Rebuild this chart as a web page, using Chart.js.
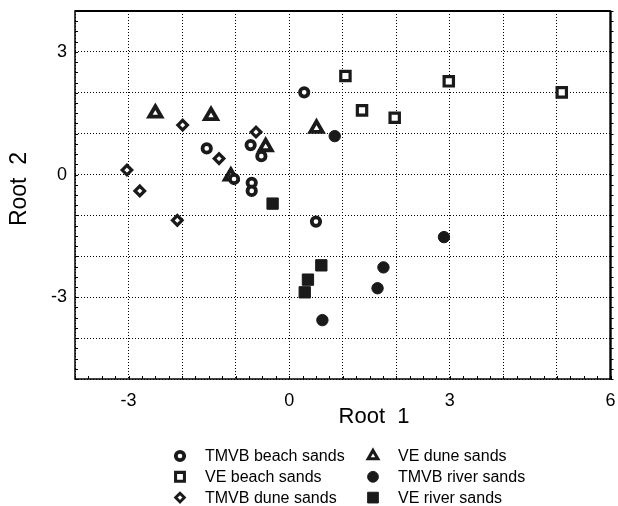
<!DOCTYPE html>
<html>
<head>
<meta charset="utf-8">
<script src="https://cdn.jsdelivr.net/npm/chart.js@4.4.1/dist/chart.umd.min.js"></script>
<style>
  html, body { margin: 0; padding: 0; background: #fff; overflow: hidden; }
  canvas { display: block; }
</style>
</head>
<body>
<canvas id="c" width="618" height="506"></canvas>
<script>
// discriminant function scores (Root 1 = x, Root 2 = y)
const tmvbBeachX = [0.28, -1.54, -0.72, -0.52, -0.70, -0.70, 0.50, -1.03];
const tmvbBeachY = [2.01, 0.64, 0.72, 0.45, -0.20, -0.40, -1.15, -0.11];
const veBeachX = [1.05, 1.36, 1.97, 2.98, 5.09];
const veBeachY = [2.41, 1.57, 1.39, 2.28, 2.01];
const tmvbDuneX = [-3.03, -2.79, -1.99, -1.31, -0.62, -2.09];
const tmvbDuneY = [0.11, -0.40, 1.21, 0.39, 1.04, -1.12];
const veDuneX = [-2.50, -1.46, -0.44, -1.09, 0.51];
const veDuneY = [1.50, 1.44, 0.68, -0.04, 1.13];
const tmvbRiverX = [0.85, 2.89, 1.76, 1.65, 0.62];
const tmvbRiverY = [0.94, -1.53, -2.27, -2.78, -3.56];
const veRiverX = [-0.31, 0.60, 0.35, 0.29];
const veRiverY = [-0.71, -2.22, -2.57, -2.88];

const xTickLabels = [-3, 0, 3, 6];
const yTickLabels = [-3, 0, 3];
const xTitle = "Root  1";
const yTitle = "Root  2";

const INK = "#1a1a1a";
const FONT = "'Liberation Sans', Arial, sans-serif";
Chart.defaults.font.family = FONT;
Chart.defaults.color = "#000";

const pts = (xs, ys) => xs.map((x, i) => ({ x, y: ys[i] }));
const open = (style, r, bw) => ({ pointStyle: style, pointRadius: r, pointHoverRadius: r, pointBorderWidth: bw, pointBackgroundColor: "#fff", pointBorderColor: INK });
const solid = (style, r) => ({ pointStyle: style, pointRadius: r, pointHoverRadius: r, pointBorderWidth: 1, pointBackgroundColor: INK, pointBorderColor: INK });

const datasets = [
  { label: "TMVB beach sands", data: pts(tmvbBeachX, tmvbBeachY), ...open("circle", 4.2, 3.8) },
  { label: "VE beach sands", data: pts(veBeachX, veBeachY), ...open("rect", 6.6, 3.2) },
  { label: "TMVB dune sands", data: pts(tmvbDuneX, tmvbDuneY), ...open("rectRot", 4.8, 3.2) },
  { label: "VE dune sands", data: pts(veDuneX, veDuneY), ...open("triangle", 7, 3.8) },
  { label: "TMVB river sands", data: pts(tmvbRiverX, tmvbRiverY), ...solid("circle", 5.7) },
  { label: "VE river sands", data: pts(veRiverX, veRiverY), ...solid("rect", 8) },
];
// legend keys are drawn a little lighter than the plot marks
const legendScale = [1, 0.95, 0.9, 0.8, 0.95, 0.95];

// frame, minor ticks, axis titles and the two-column legend
const decor = {
  id: "decor",
  afterDraw(chart) {
    const { ctx, chartArea: a, scales: { x, y } } = chart;
    ctx.save();
    ctx.strokeStyle = "#000";
    // minor ticks every 0.25
    ctx.lineWidth = 1;
    ctx.beginPath();
    for (let v = x.min; v <= x.max + 1e-9; v += 0.25) {
      const px = Math.round(x.getPixelForValue(v)) + 0.5;
      ctx.moveTo(px, a.bottom); ctx.lineTo(px, a.bottom - 3);
    }
    for (let v = y.min; v <= y.max + 1e-9; v += 0.25) {
      const py = Math.round(y.getPixelForValue(v)) + 0.5;
      ctx.moveTo(a.left, py); ctx.lineTo(a.left + 3, py);
      ctx.moveTo(a.right, py); ctx.lineTo(a.right + 3, py);
    }
    ctx.stroke();
    // frame
    ctx.lineWidth = 1.5;
    ctx.strokeRect(a.left, a.top, a.right - a.left, a.bottom - a.top);
    ctx.lineWidth = 2.2;
    ctx.beginPath();
    ctx.moveTo(a.left, a.top); ctx.lineTo(a.right, a.top);
    ctx.moveTo(a.right, a.top); ctx.lineTo(a.right, a.bottom);
    ctx.stroke();
    // axis titles
    ctx.fillStyle = "#000";
    ctx.textAlign = "center";
    ctx.textBaseline = "middle";
    ctx.font = "22px " + FONT;
    ctx.fillText(xTitle, 374, 417);
    ctx.save();
    ctx.translate(20, 189);
    ctx.rotate(-Math.PI / 2);
    ctx.font = "23px " + FONT;
    ctx.fillText(yTitle, 0, 0);
    ctx.restore();
    // legend
    ctx.font = "16px " + FONT;
    ctx.textAlign = "left";
    chart.data.datasets.forEach((ds, i) => {
      const col = Math.floor(i / 3), row = i % 3;
      const mx = col ? 373 : 180, my = 456 + row * 20.8;
      const k = legendScale[i];
      ctx.fillStyle = ds.pointBackgroundColor;
      ctx.strokeStyle = ds.pointBorderColor;
      ctx.lineWidth = ds.pointBorderWidth * k;
      Chart.helpers.drawPoint(ctx, { pointStyle: ds.pointStyle, radius: ds.pointRadius * k, borderWidth: ds.pointBorderWidth * k * (k < 0.85 ? 0.75 : 1), rotation: 0 }, mx, my);
      ctx.fillStyle = "#000";
      ctx.fillText(ds.label, mx + 25, my + 1);
    });
    ctx.restore();
  },
};

new Chart(document.getElementById("c"), {
  type: "scatter",
  data: { datasets },
  options: {
    responsive: false,
    animation: false,
    // no extra room for marker overflow; the plot box is pinned by padding
    layout: { autoPadding: false, padding: { top: 11, right: 7.5, left: 0, bottom: 0 } },
    plugins: { legend: { display: false }, tooltip: { enabled: false } },
    scales: {
      x: {
        type: "linear", min: -4, max: 6,
        afterFit: (s) => { s.height = 127; s.paddingLeft = 0; s.paddingRight = 0; },
        ticks: { stepSize: 1, autoSkip: false, maxRotation: 0, padding: 0, font: { size: 18 }, color: "#000",
          callback: (v) => (xTickLabels.includes(v) ? String(v) : "") },
        grid: { color: "#000", lineWidth: 1, drawTicks: true, tickLength: 11, tickColor: "rgba(0,0,0,0)" },
        border: { display: false, dash: [1, 2] },
      },
      y: {
        type: "linear", min: -5, max: 4,
        afterFit: (s) => { s.width = 75; s.paddingTop = 0; s.paddingBottom = 0; },
        ticks: { stepSize: 1, autoSkip: false, padding: 8, font: { size: 18 }, color: "#000",
          callback: (v) => (yTickLabels.includes(v) ? String(v) : "") },
        grid: { color: "#000", lineWidth: 1, drawTicks: false },
        border: { display: false, dash: [1, 2] },
      },
    },
  },
  plugins: [decor],
});
</script>
</body>
</html>
